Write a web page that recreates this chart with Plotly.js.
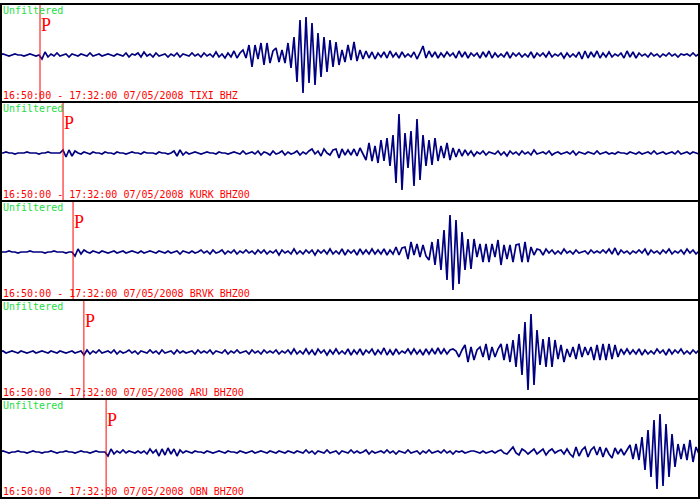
<!DOCTYPE html>
<html>
<head>
<meta charset="utf-8">
<script src="https://cdn.plot.ly/plotly-3.0.1.min.js"></script>
<style>html,body{margin:0;padding:0;background:#fff;}#chart{width:700px;height:500px;}</style>
</head>
<body>
<div id="chart"></div>
<script>
// ---- data ----
const STATIONS = ["TIXI BHZ", "KURK BHZ00", "BRVK BHZ00", "ARU BHZ00", "OBN BHZ00"];
const WINDOW_LABEL = "16:50:00 - 17:32:00 07/05/2008";
const FILTER_LABEL = "Unfiltered";
const DURATION_S = 2520;          // 16:50:00 -> 17:32:00
const SAMPLE_DT_S = 10.8;         // seconds between samples
const P_ARRIVALS_S = [144, 227, 263, 302, 382];

const tixi = [0,1,0,-1,0,1,0,0,-1,0,1,0,-1,
0,-4,3,-2,
1,-1,2,-1,0,1,-2,1,0,-1,1,0,-1,2,
-1,0,1,-1,0,1,0,-1,1,0,-1,2,-2,1,0,
2,-2,3,-1,1,-2,2,-1,0,1,
-2,1,-1,2,-2,1,0,-1,2,-1,
1,-2,2,-1,1,-2,3,-2,1,-3,2,
-2,4,-3,2,
5,-3,10,-12,10,-4,12,-10,12,-8,4,7,-7,5,-8,12,
-13,18,-27,35,-38,38,-28,32,-30,22,-22,18,-17,15,-12,13,-10,5,-7,10,-5,13,-6,5,-4,
4,-3,3,-4,2,-2,3,-3,4,-2,2,-3,3,-2,1,-2,3,-4,2,9,-3,4,-2,3,
-3,2,-2,3,-1,2,-3,4,-2,3,-3,2,-1,2,-3,3,-2,4,-3,2,-2,1,-2,3,-3,2,-1,2,-2,1,
-2,3,-3,2,-1,2,-2,3,-2,1,-1,2,-3,2,-2,1,-2,3,-4,4,-3,3,-2,4,-3,2,-2,3,-2,1,
-1,2,-3,4,-2,3,-3,2,-1,1,-2,2,-1,1,-2,1,-1,2,-1,1,-2,1,0,1,-1,2,-1,1];

const kurk = [0,0,1,0,0,-1,0,0,0,1,0,0,0,-1,0,0,1,0,0,0,0,
3,-4,3,-3,2,
0,-1,1,0,-1,1,0,0,-1,1,0,0,-1,1,0,0,-1,0,1,0,0,-1,1,0,0,0,-1,1,0,0,-1,0,
2,-3,3,-2,1,-1,
0,1,0,-1,0,1,0,0,-1,1,0,0,-1,0,1,0,-1,2,-1,0,1,-1,
2,-2,1,0,-2,2,-1,0,2,-2,1,-1,0,2,-2,1,-1,2,
4,-1,2,-3,4,0,-2,3,4,-5,
4,-2,3,-2,4,-3,5,-1,-7,10,-8,7,-10,13,-8,15,-13,18,-30,39,-37,20,-15,22,-33,34,-27,18,-13,13,-12,15,-8,7,-5,10,-7,5,-4,4,-3,
3,-2,2,-3,1,-1,2,-2,1,0,-1,2,-2,1,-3,2,-1,1,-2,2,
-1,1,-2,3,-1,0,1,-1,2,-2,0,1,-1,0,1,-1,2,-2,1,0,
-1,1,0,-1,2,-1,0,1,-1,0,-1,1,0,0,-1,1,0,-1,1,-1,
0,1,-1,2,-1,0,1,-1,0,1,-1,2,-1,0,1,-1,1,0,-1];

const brvk = [0,0,0,1,0,0,-1,0,0,0,1,0,0,0,0,-1,0,0,1,0,0,0,-1,0,
0,-4,3,-2,2,
0,-1,1,0,-1,1,0,-1,0,1,-1,0,1,-1,0,1,0,-1,1,-1,0,1,0,-1,1,0,-1,1,-1,0,1,-2,1,0,-1,1,-1,0,
2,-1,1,-2,2,-1,0,2,-2,1,-1,2,-2,1,-1,2,-1,1,-2,2,-1,2,-2,1,-1,2,-3,2,-1,1,-2,3,-2,1,-2,2,-1,2,-3,2,-1,2,-2,3,-2,1,-2,3,-3,2,-1,2,-3,3,-2,2,-2,3,-2,2,
-2,3,-3,2,-2,5,-3,4,5,-7,10,-3,8,-5,7,-4,-8,10,-13,
13,-18,22,-28,37,-38,32,-32,20,-18,13,-17,13,-5,8,-10,8,-10,8,-5,12,-13,7,-7,7,-10,7,8,-10,10,-10,5,-3,3,
2,-3,3,-1,2,-2,1,-2,3,-1,1,-2,2,-1,0,1,-2,2,-1,1,
-1,2,-1,3,-2,4,-3,2,-1,1,-2,1,-1,2,-1,3,-3,2,-1,1,
-2,2,-1,3,-2,1,-1,2,-2,3,-1,2,-2,1];

const aru = [0,1,-1,0,1,0,-1,1,0,-1,0,1,-1,0,1,0,-1,1,0,-1,1,0,-1,0,1,-1,0,1,
-3,2,-2,
1,-1,2,-1,0,1,-1,2,-2,1,-1,0,2,-1,1,-2,1,0,-1,2,-1,1,-2,2,-1,0,1,-2,2,-1,1,-1,0,1,-2,2,-1,1,-1,2,-2,1,0,-1,2,-2,1,-1,2,-1,0,1,-2,2,-1,1,-2,2,-1,1,-1,2,-2,1,-1,2,-2,3,-2,
1,-2,3,-2,2,-3,3,-1,2,-3,2,-2,3,-2,1,-2,3,-3,2,-2,3,-3,2,-1,3,-3,2,-2,4,-3,2,-3,3,-2,
1,-1,3,-2,3,-2,2,-3,3,-2,3,-2,4,-2,3,-2,2,
3,1,-5,2,7,-10,5,-8,2,5,-5,8,-8,5,-5,3,8,-8,8,-10,12,-15,18,-23,30,-38,38,-33,22,-13,13,-15,15,-15,12,-7,7,-10,3,-5,5,-7,8,-5,5,-3,5,-8,7,-8,8,-8,8,-7,7,-5,3,-2,3,-2,
2,-2,3,-3,2,-2,1,-2,3,-1,2,-3,3,-2,2,-1,3,-2,1,-2,2,-1,2];

const obn = [0,1,0,-1,0,0,1,0,0,-1,0,1,0,0,-1,0,0,1,0,-1,0,0,1,0,0,-1,0,1,0,0,-1,0,1,0,0,0,
-4,3,-2,
1,-1,2,-1,1,0,-1,1,-1,1,
-2,3,-1,2,-4,3,-3,4,-2,3,-4,2,-1,1,
0,-1,1,0,0,-1,1,0,-1,0,1,0,-1,1,0,0,-1,1,0,-1,0,1,-1,0,1,0,-1,1,0,-1,1,0,-1,1,0,-1,1,
0,-1,2,-1,1,-2,1,0,-1,2,-1,0,1,-2,1,0,-1,2,-1,1,-1,0,2,-2,1,-1,0,1,-1,2,-1,1,-2,1,0,-1,2,-1,0,1,-2,1,-1,2,-1,0,1,-1,2,-1,1,-2,1,0,
1,-1,0,1,1,0,-1,1,-1,0,1,-1,
1,2,-1,-2,2,5,-1,-3,3,1,-2,1,3,-2,1,3,-3,1,3,-1,1,2,-2,3,-2,-5,5,-4,2,5,-5,2,5,-3,5,-5,4,-2,-6,4,-2,3,-3,2,
7,-7,8,-8,15,-18,22,-25,32,-37,38,-34,28,-25,18,-15,8,-7,8,-8,12,-10,5,-2];

const SERIES = [tixi, kurk, brvk, aru, obn];

// ---- layout geometry (pixels of the 700x500 page) ----
const W = 700, H = 500;
const EDGES = [4, 102, 201, 300, 399, 498];
const BASE = [55, 153, 252, 352, 452];

const traces = [];
const layout = {
  width: W, height: H,
  margin: {l: 0, r: 0, t: 0, b: 0},
  paper_bgcolor: "#ffffff", plot_bgcolor: "#ffffff",
  showlegend: false,
  xaxis: {range: [0, DURATION_S], visible: false, fixedrange: true},
  shapes: [], annotations: []
};

SERIES.forEach((vals, k) => {
  const yName = k === 0 ? "y" : "y" + (k + 1);
  const axKey = k === 0 ? "yaxis" : "yaxis" + (k + 1);
  const top = EDGES[k], bot = EDGES[k + 1], base = BASE[k];
  layout[axKey] = {
    domain: [1 - bot / H, 1 - top / H],
    range: [-(bot - base), base - top],
    visible: false, fixedrange: true, anchor: "x"
  };
  traces.push({
    x: vals.map((_, i) => i * SAMPLE_DT_S),
    y: vals,
    xaxis: "x", yaxis: yName,
    type: "scatter", mode: "lines",
    line: {color: "#000080", width: 1.7, shape: "linear"},
    hoverinfo: "skip"
  });
  // P arrival line
  layout.shapes.push({
    type: "line", xref: "x", yref: yName + " domain",
    x0: P_ARRIVALS_S[k], x1: P_ARRIVALS_S[k], y0: 0, y1: 1,
    line: {color: "#ff0000", width: 1}
  });
  layout.annotations.push({
    text: "P", showarrow: false, borderpad: 0,
    xref: "x", x: P_ARRIVALS_S[k], xanchor: "left", xshift: 0,
    yref: yName + " domain", y: 1, yanchor: "top", yshift: -10,
    font: {family: "Liberation Serif", size: 18, color: "#ff0000"}
  });
  layout.annotations.push({
    text: FILTER_LABEL, showarrow: false, borderpad: 0,
    xref: "paper", x: 0, xanchor: "left", xshift: 2,
    yref: yName + " domain", y: 1, yanchor: "top", yshift: 0,
    font: {family: "DejaVu Sans Mono", size: 10, color: "#22dd44"}
  });
  layout.annotations.push({
    text: WINDOW_LABEL + " " + STATIONS[k], showarrow: false, borderpad: 0,
    xref: "paper", x: 0, xanchor: "left", xshift: 2,
    yref: yName + " domain", y: 0, yanchor: "bottom", yshift: 0,
    font: {family: "DejaVu Sans Mono", size: 10, color: "#ff0000"}
  });
});

// frame and separators
layout.shapes.push({
  type: "rect", xref: "paper", yref: "paper",
  x0: 1 / W, x1: 1 - 1 / W, y0: 1 - EDGES[5] / H, y1: 1 - EDGES[0] / H,
  line: {color: "#000000", width: 2}
});
for (let k = 1; k < 5; k++) {
  layout.shapes.push({
    type: "line", xref: "paper", yref: "paper",
    x0: 0, x1: 1, y0: 1 - EDGES[k] / H, y1: 1 - EDGES[k] / H,
    line: {color: "#000000", width: 2}
  });
}

Plotly.newPlot("chart", traces, layout, {staticPlot: true, displayModeBar: false});
</script>
</body>
</html>
